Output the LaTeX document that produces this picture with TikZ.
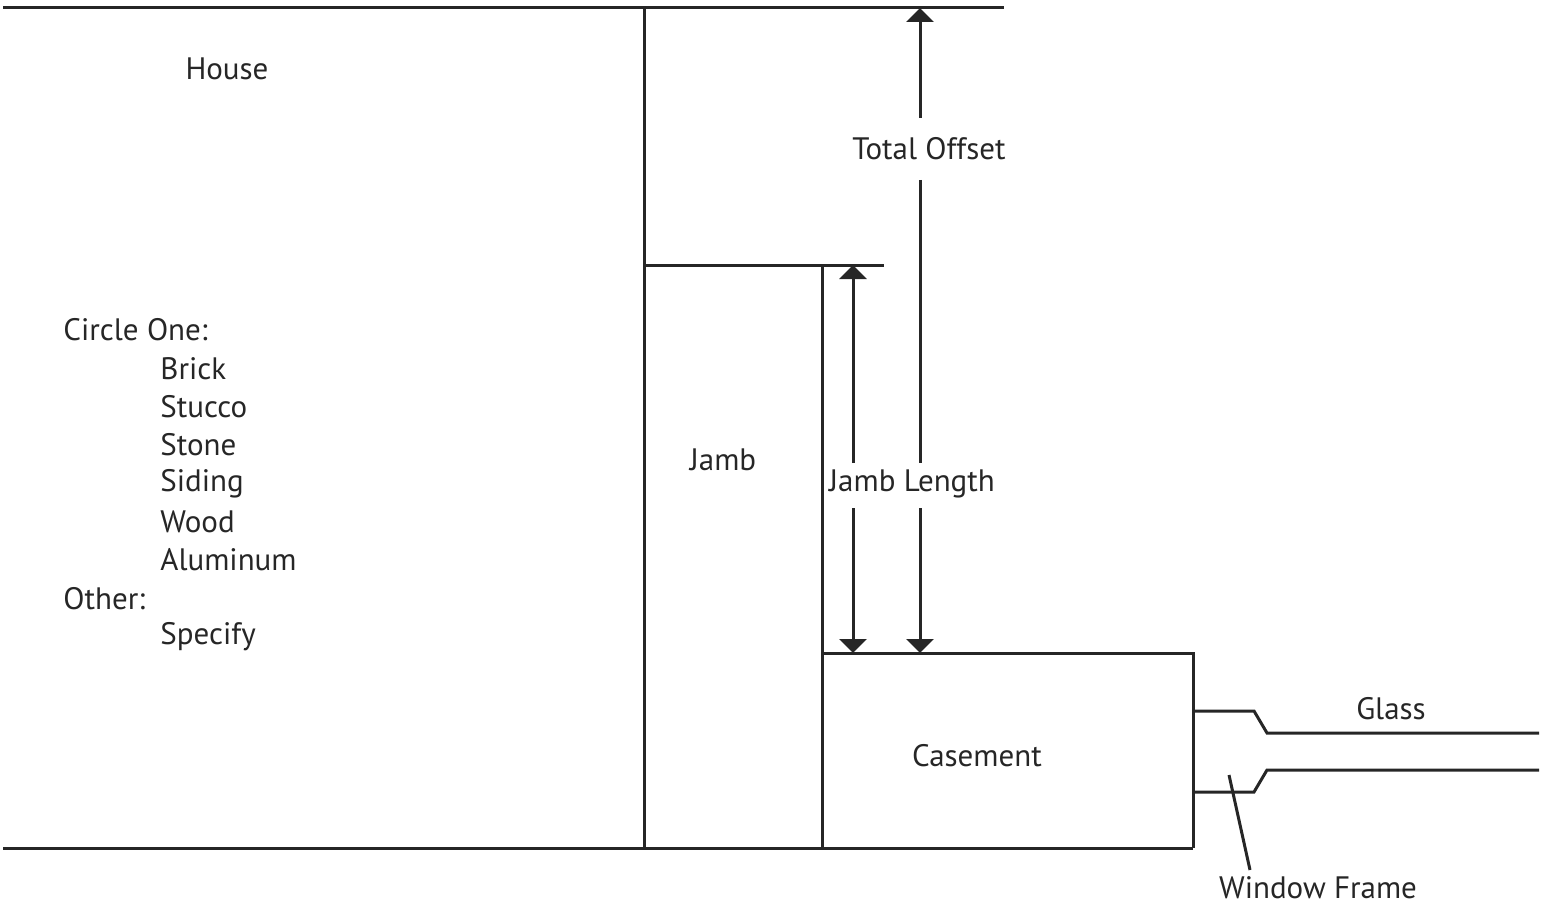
\documentclass[tikz,border=0pt]{standalone}
\usepackage{fontspec}
\setmainfont{PT Sans}
\usetikzlibrary{arrows.meta}
\begin{document}
\begin{tikzpicture}[x=0.5pt,y=-0.5pt,
  ln/.style={line width=1.5pt,draw=black!85},
  lbl/.style={font=\fontsize{15.5}{18}\selectfont,text=black!85,inner sep=0pt},
  tip/.style={-{Triangle[width=13.5pt,length=7pt]}}]
\useasboundingbox (0,0) rectangle (1551,909);
% structure coordinates
\coordinate (tl) at (3,8);
\coordinate (tr) at (1004,8);
\coordinate (bl) at (3,848);
\coordinate (br) at (1193,848);
\coordinate (hv) at (644,8);
\coordinate (hb) at (644,848);
\coordinate (jt) at (644,265);
\coordinate (jtr) at (884,265);
\coordinate (jr) at (822,265);
\coordinate (jrb) at (822,848);
\coordinate (ct) at (822,653);
\coordinate (ctr) at (1193,653);
% outline
\draw[ln] (tl) -- (tr);
\draw[ln] (bl) -- (br);
\draw[ln] (hv) -- (hb);
\draw[ln] (jt) -- (jtr);
\draw[ln] (jr) -- (jrb);
\draw[ln] (ct) -- (ctr) -- (br);
% window frame and glass
\coordinate (f1a) at (1193,711);
\coordinate (f1b) at (1254,711);
\coordinate (g1a) at (1267,733);
\coordinate (g1b) at (1539,733);
\coordinate (f2a) at (1193,792);
\coordinate (f2b) at (1254,792);
\coordinate (g2a) at (1267,770);
\coordinate (g2b) at (1539,770);
\draw[ln] (f1a) -- (f1b) -- (g1a) -- (g1b);
\draw[ln] (f2a) -- (f2b) -- (g2a) -- (g2b);
% labels
\node[lbl] (house) at (227,69) {House};
\node[lbl,anchor=west] (circ) at (63,330) {Circle One:};
\node[lbl,anchor=west] (brick) at (160,369) {Brick};
\node[lbl,anchor=west] (stucco) at (160,407) {Stucco};
\node[lbl,anchor=west] (stone) at (160,445) {Stone};
\node[lbl,anchor=west] (siding) at (160,484) {Siding};
\node[lbl,anchor=west] (wood) at (160,522) {Wood};
\node[lbl,anchor=west] (alu) at (160,560) {Aluminum};
\node[lbl,anchor=west] (other) at (63,599) {Other:};
\node[lbl,anchor=west] (spec) at (160,637) {Specify};
\node[lbl] (jamb) at (723,460) {Jamb};
\node[lbl] (jlen) at (912,484) {Jamb Length};
\node[lbl] (toff) at (929,149) {Total Offset};
\node[lbl] (case) at (977,756) {Casement};
\node[lbl] (glass) at (1391,709) {Glass};
\node[lbl] (wf) at (1318,888) {Window Frame};
% dimension arrows
\coordinate (a1t) at (853,265);
\coordinate (a1u) at (853,463);
\coordinate (a1d) at (853,508);
\coordinate (a1b) at (853,653);
\draw[ln,tip] (a1u) -- (a1t);
\draw[ln,tip] (a1d) -- (a1b);
\coordinate (a2t) at (920,8);
\coordinate (a2u) at (920,118);
\coordinate (a2v) at (920,180);
\coordinate (a2w) at (920,463);
\coordinate (a2d) at (920,508);
\coordinate (a2b) at (920,653);
\draw[ln,tip] (a2u) -- (a2t);
\draw[ln] (a2v) -- (a2w);
\draw[ln,tip] (a2d) -- (a2b);
% leader
\coordinate (wfp) at (1229,775);
\coordinate (wfe) at (1250,870);
\draw[ln] (wfp) -- (wfe);
\end{tikzpicture}
\end{document}
